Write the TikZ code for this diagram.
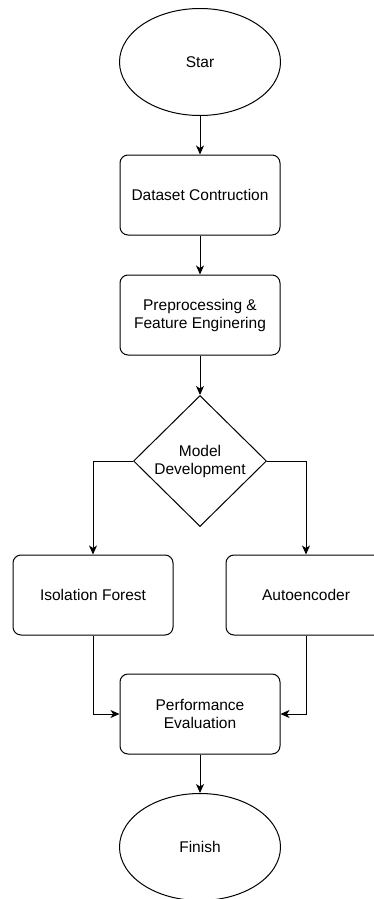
\documentclass[tikz,border=0pt]{standalone}
\usepackage{fontspec}
\setmainfont{Liberation Sans}
\usetikzlibrary{shapes.geometric,arrows.meta}
\begin{document}
\begin{tikzpicture}[x=1pt,y=-1pt,
  every node/.style={font=\fontsize{15.5}{18}\selectfont, align=center, line width=1pt},
  terminal/.style={draw, ellipse, minimum width=161pt, minimum height=107pt, inner sep=0pt},
  stepbox/.style={draw, rounded corners=8pt, minimum width=160pt, minimum height=80pt, inner sep=0pt},
  choice/.style={draw, diamond, minimum width=133pt, minimum height=131pt, inner sep=0pt},
  flow/.style={-{Stealth[length=9pt,width=8pt,inset=2.5pt]}, line width=1pt}]
\useasboundingbox (0,0) rectangle (374,899);
\node[terminal] (start) at (200, 62) {Star};
\node[stepbox] (data) at (200, 195) {Dataset Contruction};
\node[stepbox] (prep) at (200, 315) {Preprocessing \&\\Feature Enginering};
\node[choice] (model) at (200, 461) {Model\\Development};
\node[stepbox] (iforest) at (93, 595) {Isolation Forest};
\node[stepbox] (ae) at (306, 595) {Autoencoder};
\node[stepbox] (perf) at (200, 714) {Performance\\Evaluation};
\node[terminal] (finish) at (200, 847) {Finish};
\draw[flow] (start) -- (data);
\draw[flow] (data) -- (prep);
\draw[flow] (prep) -- (model);
\draw[flow] (model.west) -| (iforest.north);
\draw[flow] (model.east) -| (ae.north);
\draw[flow] (iforest.south) |- (perf.west);
\draw[flow] (ae.south) |- (perf.east);
\draw[flow] (perf) -- (finish);
\end{tikzpicture}
\end{document}
